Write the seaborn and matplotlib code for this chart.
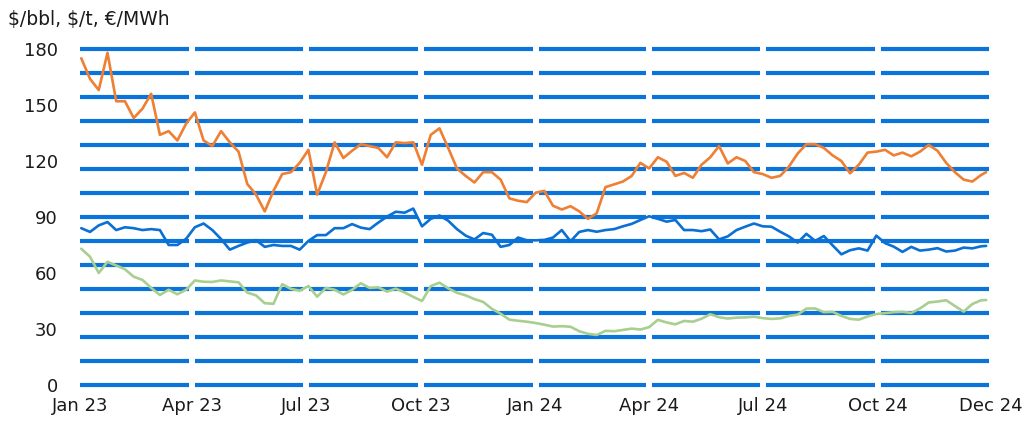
import numpy as np
import pandas as pd
import matplotlib
matplotlib.use("Agg")
import matplotlib.pyplot as plt
import seaborn as sns

sns.set_style("white")
plt.rcParams['font.family'] = ['DejaVu Sans']

# weekly observations, 13 per quarter, plus the last trading day shown
dates = list(pd.date_range('2023-01-02', periods=104, freq='7D')) + [pd.Timestamp('2024-12-27')]

coal = [175, 164, 158, 178, 152, 152, 143, 148, 156, 134, 136, 131, 140,
        146, 131, 128, 136, 130, 125, 107.7, 102, 93, 104, 113, 114, 119,
        126, 102, 114, 130, 121.6, 125.5, 129, 128, 127, 122, 130, 129.6, 130,
        118, 134, 137.5, 127, 116, 112, 108.5, 114, 114, 110, 100, 98.7, 98,
        103, 104, 96, 94, 95.8, 93, 89, 92, 106, 107.5, 109, 112, 119,
        116, 122, 119.6, 112, 113.6, 111, 118, 122, 128, 118.7, 122, 120, 114,
        113, 111, 112, 117, 124, 129, 129, 127, 123, 120, 113.4, 118, 124.5,
        125, 126, 123, 124.5, 122.5, 125, 128.6, 125.5, 119, 114, 110, 109, 112.5, 114]

brent = [84, 82, 85.5, 87.3, 83, 84.5, 84, 83, 83.5, 83, 75, 75, 78.3,
         84.5, 86.5, 83, 78.2, 72.5, 74.5, 76.3, 77.6, 74, 75, 74.5, 74.5, 72.5,
         77.2, 80.3, 80.3, 84, 84, 86.2, 84.3, 83.5, 87, 90.2, 92.8, 92.3, 94.5,
         85, 89, 90.8, 88, 83.5, 80, 78, 81.4, 80.5, 74, 75, 79, 77.5,
         77.5, 77.7, 79, 83, 77, 82, 83, 82.1, 83, 83.5, 85, 86.3, 88.4,
         90.4, 89, 87.5, 88.4, 83, 83, 82.4, 83.3, 78, 79.6, 83, 84.8, 86.5,
         85, 84.8, 82.1, 79.6, 76.3, 81, 77.2, 79.8, 74.8, 70, 72.2, 73.2, 72,
         80, 76, 74.1, 71.3, 74, 72, 72.5, 73.3, 71.5, 72, 73.6, 73.2, 74.3, 74.5]

gas = [73, 68.7, 60, 66, 64, 62, 58, 56.3, 52, 48.2, 51, 48.6, 51,
       56, 55.3, 55.2, 56, 55.5, 55, 49.5, 48, 43.8, 43.5, 54, 51.5, 50.5,
       53, 47.3, 52, 51, 48.5, 51, 54.5, 52, 52.3, 50, 51.6, 49.6, 47.2,
       45, 53, 54.8, 51.8, 49.4, 48, 46, 44.5, 40.8, 38.2, 35, 34.4, 33.9,
       33.2, 32.3, 31.3, 31.5, 31.2, 28.8, 27.4, 26.8, 29, 28.8, 29.5, 30.2, 29.7,
       31, 34.9, 33.5, 32.5, 34.3, 33.9, 35.5, 37.9, 36.3, 35.6, 36.1, 36.2, 36.6,
       35.8, 35.4, 35.7, 37, 37.7, 40.9, 41, 39, 39.2, 37, 35.4, 35, 36.7,
       38, 38.5, 39, 39.2, 38.6, 41, 44.2, 44.7, 45.4, 42.3, 39.3, 43.4, 45.4, 45.5]

series_names = ['Coal', 'Brent', 'TTF gas']
colors = ['#EE7F33', '#0B70D4', '#A8CF8F']

tick_dates = ['2023-01-01', '2023-04-01', '2023-07-01', '2023-10-01', '2024-01-01',
              '2024-04-01', '2024-07-01', '2024-10-01', '2024-12-31']
tick_labels = ['Jan 23', 'Apr 23', 'Jul 23', 'Oct 23', 'Jan 24',
               'Apr 24', 'Jul 24', 'Oct 24', 'Dec 24']
quarter_starts = ['2023-04-01', '2023-07-01', '2023-10-01', '2024-01-01',
                  '2024-04-01', '2024-07-01', '2024-10-01', '2025-01-01']

df = pd.concat([
    pd.DataFrame({'date': dates, 'value': v, 'series': n})
    for n, v in zip(series_names, [coal, brent, gas])
])

fig = plt.figure(figsize=(10.26, 4.29), dpi=100)
ax = fig.add_axes([0.078, 0.1026, 0.888, 0.7832])

x0, x1 = pd.Timestamp('2023-01-01'), pd.Timestamp('2024-12-31')
ax.set_xlim(x0, x1)
ax.set_ylim(0, 180)

# thick blue grid, broken at each quarter
ax.hlines(np.linspace(0, 180, 15), x0, x1, color='#0A74DA', lw=3.0, zorder=1,
          clip_on=False)
ax.vlines(pd.to_datetime(quarter_starts), -0.03, 1.03, transform=ax.get_xaxis_transform(),
          color='white', lw=4.3, zorder=2, clip_on=False)

sns.lineplot(data=df, x='date', y='value', hue='series', hue_order=series_names,
             palette=colors, linewidth=1.9, legend=False, ax=ax, zorder=3)

ax.set_xticks(pd.to_datetime(tick_dates))
ax.set_xticklabels(tick_labels)
ax.set_yticks([0, 30, 60, 90, 120, 150, 180])
ax.tick_params(axis='both', length=0, labelsize=13, colors='#1a1a1a')
ax.tick_params(axis='y', pad=16)
ax.tick_params(axis='x', pad=9)
ax.set_xlabel('')
ax.set_ylabel('')
for s in ax.spines.values():
    s.set_visible(False)

fig.text(8 / 1026, 1 - 20 / 429, r'\$/bbl, \$/t, €/MWh', fontsize=13.5,
         color='#1a1a1a', va='center', ha='left')

fig.savefig('out.png', dpi=100)
